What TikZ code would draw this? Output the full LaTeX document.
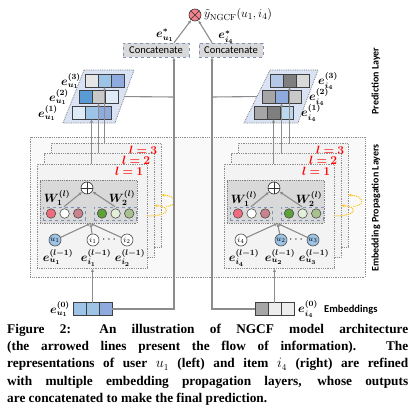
\documentclass[tikz,border=0pt]{standalone}
\usepackage{fontspec}
\usepackage{amsmath}
\usepackage{bm}
\setsansfont{Carlito}
\newfontfamily\capfont{Liberation Serif}
\usetikzlibrary{positioning,arrows.meta}

\definecolor{flowgray}{HTML}{8C8C8C}
\definecolor{boxgray}{HTML}{D9D9D9}
\definecolor{layerfill}{HTML}{F3F3F3}
\definecolor{outerfill}{HTML}{F9F9F9}
\definecolor{parafill}{HTML}{DAE3F3}
\definecolor{dashblue}{HTML}{7F93B8}
\definecolor{userblue}{HTML}{9DC3E6}
\definecolor{wpink}{HTML}{EE6B7D}
\definecolor{wrose}{HTML}{C9828E}
\definecolor{wgreen}{HTML}{5EA03A}
\definecolor{wlgreen}{HTML}{E2EFD9}
\definecolor{wsage}{HTML}{A9C08F}
\definecolor{loopgold}{HTML}{FFC000}
\definecolor{predpink}{HTML}{F4818C}
\definecolor{bA}{HTML}{DEEBF7}
\definecolor{bB}{HTML}{9DC3E6}
\definecolor{bC}{HTML}{8FAADC}
\definecolor{bD}{HTML}{5B9BD5}
\definecolor{bE}{HTML}{B4C7E7}
\definecolor{bF}{HTML}{BDD7EE}
\definecolor{gA}{HTML}{E7E6E6}
\definecolor{gB}{HTML}{C9C9C9}
\definecolor{gC}{HTML}{A6A6A6}
\definecolor{gD}{HTML}{7F7F7F}
\definecolor{gE}{HTML}{EDEDED}

\tikzset{
  layerbox/.style={draw=black!45, densely dotted, line width=0.8pt, fill=layerfill, inner sep=0pt},
  graybox/.style={draw=black!50, densely dotted, line width=0.8pt, fill=boxgray, inner sep=0pt},
  wbox/.style={draw=dashblue, dashed, line width=0.6pt, minimum width=42pt, minimum height=13pt, inner sep=0pt},
  wdot/.style={circle, draw=black!70, line width=0.6pt, minimum size=9.5pt, inner sep=0pt},
  ent/.style={circle, draw=black!70, line width=0.6pt, minimum size=12pt, inner sep=0pt, font=\fontsize{8.5}{8.5}\selectfont},
  opcirc/.style={circle, draw=black!80, line width=0.6pt, minimum size=12pt, inner sep=0pt},
  cell/.style={draw=black!75, line width=0.7pt, minimum width=13pt, minimum height=13pt, inner sep=0pt, outer sep=0pt},
  parabox/.style={draw=black!50, densely dotted, line width=0.8pt, fill=parafill},
  concatbox/.style={draw=dashblue, dashed, line width=0.6pt, fill=boxgray, minimum height=14pt, inner sep=0pt, font=\sffamily\fontsize{10.5}{12}\selectfont},
  flow/.style={draw=flowgray, line width=1.1pt, -{Latex[length=3.5pt,width=3.2pt]}},
  plain/.style={draw=flowgray, line width=1.1pt},
  ydot/.style={draw=loopgold, densely dotted, line width=1pt, -{Latex[length=3pt,width=3pt]}},
  emb/.style={inner sep=0pt, font=\fontsize{12}{14}\selectfont},
  lvl/.style={inner sep=0pt, text=red, font=\fontsize{11.5}{13}\selectfont},
  side/.style={rotate=90, inner sep=0pt, font=\sffamily\bfseries\fontsize{10}{12}\selectfont}
}

\begin{document}
\begin{tikzpicture}[x=1pt,y=-1pt]
\useasboundingbox (0,0) rectangle (415,417);

\draw[layerbox, fill=outerfill] (30,137) rectangle (365,277);

% user side layers
\node[layerbox, minimum width=110pt, minimum height=104pt] (uL3) at (106,195) {};
\node[lvl, anchor=north east] (ul3) at ([shift={(-4,3)}]uL3.north east) {$\bm{l=3}$};
\node[layerbox, minimum width=110pt, minimum height=104pt] (uL2) at (99,205.5) {};
\node[lvl, anchor=north east] (ul2) at ([shift={(-4,3)}]uL2.north east) {$\bm{l=2}$};
\node[layerbox, minimum width=110pt, minimum height=104pt] (uL1) at (92,216) {};
\node[lvl, anchor=north east] (ul1) at ([shift={(-4,3)}]uL1.north east) {$\bm{l=1}$};

\node[graybox, minimum width=97pt, minimum height=43pt] (ugray) at (88.5,201.5) {};
\node[opcirc, fill=white] (uplus) at (87,188) {};
\draw[black!80, line width=0.6pt] (uplus.north) -- (uplus.south) (uplus.west) -- (uplus.east);
\node[wbox] (uw1) at (64,213.5) {};
\node[wdot, fill=wpink] (uw1a) at (51,213.5) {};
\node[wdot, fill=white, right=3.5pt of uw1a] (uw1b) {};
\node[wdot, fill=wrose, right=3.5pt of uw1b] (uw1c) {};
\node[wbox] (uw2) at (115,213.5) {};
\node[wdot, fill=wgreen] (uw2a) at (102,213.5) {};
\node[wdot, fill=wlgreen, right=3.5pt of uw2a] (uw2b) {};
\node[wdot, fill=wsage, right=3.5pt of uw2b] (uw2c) {};
\node[emb] (uW1) at (57,198) {$\bm{W^{(l)}_1}$};
\node[emb] (uW2) at (122,198) {$\bm{W^{(l)}_2}$};
\draw[flow] (uw1.north) -- (uplus);
\draw[flow] (uw2.north) -- (uplus);

\node[ent, fill=userblue] (uu1) at (55,240) {$u_1$};
\node[ent, fill=white] (ui1) at (93,240) {$i_1$};
\node[ent, fill=white] (ui2) at (127,240) {$i_2$};
\node[emb] (udots) at (110,240) {$\cdots$};
\node[emb, below=3pt of uu1, xshift=3pt] (uu1e) {$\bm{e^{(l-1)}_{u_1}}$};
\node[emb, below=3pt of ui1, xshift=3pt] (ui1e) {$\bm{e^{(l-1)}_{i_1}}$};
\node[emb, below=3pt of ui2, xshift=3pt] (ui2e) {$\bm{e^{(l-1)}_{i_2}}$};
\draw[flow] (uu1) -- ([xshift=2pt]ugray.south);
\draw[flow] (ui1) -- ([xshift=2pt]ugray.south);
\draw[flow] (ui2) -- ([xshift=2pt]ugray.south);

\draw[ydot] (uL1.east) .. controls +(24,0) and +(16,1) .. (uL2.east);
\draw[ydot] ([shift={(12,1)}]uL2.east) .. controls +(12,-1) and +(16,1) .. (uL3.east);

% item side layers
\node[layerbox, minimum width=110pt, minimum height=104pt] (iL3) at (293,195) {};
\node[lvl, anchor=north east] (il3) at ([shift={(-4,3)}]iL3.north east) {$\bm{l=3}$};
\node[layerbox, minimum width=110pt, minimum height=104pt] (iL2) at (286,205.5) {};
\node[lvl, anchor=north east] (il2) at ([shift={(-4,3)}]iL2.north east) {$\bm{l=2}$};
\node[layerbox, minimum width=110pt, minimum height=104pt] (iL1) at (279,216) {};
\node[lvl, anchor=north east] (il1) at ([shift={(-4,3)}]iL1.north east) {$\bm{l=1}$};

\node[graybox, minimum width=97pt, minimum height=43pt] (igray) at (275.5,201.5) {};
\node[opcirc, fill=white] (iplus) at (274,188) {};
\draw[black!80, line width=0.6pt] (iplus.north) -- (iplus.south) (iplus.west) -- (iplus.east);
\node[wbox] (iw1) at (251,213.5) {};
\node[wdot, fill=wpink] (iw1a) at (238,213.5) {};
\node[wdot, fill=white, right=3.5pt of iw1a] (iw1b) {};
\node[wdot, fill=wrose, right=3.5pt of iw1b] (iw1c) {};
\node[wbox] (iw2) at (302,213.5) {};
\node[wdot, fill=wgreen] (iw2a) at (289,213.5) {};
\node[wdot, fill=wlgreen, right=3.5pt of iw2a] (iw2b) {};
\node[wdot, fill=wsage, right=3.5pt of iw2b] (iw2c) {};
\node[emb] (iW1) at (244,199) {$\bm{W^{(l)}_1}$};
\node[emb] (iW2) at (309,199) {$\bm{W^{(l)}_2}$};
\draw[flow] (iw1.north) -- (iplus);
\draw[flow] (iw2.north) -- (iplus);

\node[ent, fill=white] (ii4) at (241,240) {$i_4$};
\node[ent, fill=userblue] (iu2) at (281,240) {$u_2$};
\node[ent, fill=userblue] (iu3) at (313,240) {$u_3$};
\node[emb] (idots) at (297,240) {$\cdots$};
\node[emb, below=3pt of ii4, xshift=3pt] (ii4e) {$\bm{e^{(l-1)}_{i_4}}$};
\node[emb, below=3pt of iu2, xshift=-1pt] (iu2e) {$\bm{e^{(l-1)}_{u_2}}$};
\node[emb, below=3pt of iu3, xshift=1pt] (iu3e) {$\bm{e^{(l-1)}_{u_3}}$};
\draw[flow] (ii4) -- ([xshift=2pt]igray.south);
\draw[flow] (iu2) -- ([xshift=2pt]igray.south);
\draw[flow] (iu3) -- ([xshift=2pt]igray.south);

\draw[ydot] (iL1.east) .. controls +(24,0) and +(16,1) .. (iL2.east);
\draw[ydot] ([shift={(12,1)}]iL2.east) .. controls +(12,-1) and +(16,1) .. (iL3.east);

% input embeddings
\coordinate (ucol) at (174,97);
\coordinate (icol) at (212,97);
\node[cell, fill=bB] (u0-1) at (79.5,309) {};
\node[cell, fill=bB, right=0pt of u0-1] (u0-2) {};
\node[cell, fill=bC, right=0pt of u0-2] (u0-3) {};
\node[emb, left=3pt of u0-1] (u0e) {$\bm{e^{(0)}_{u_1}}$};
\node[cell, fill=gC] (i0-1) at (261.5,309) {};
\node[cell, fill=gE, right=0pt of i0-1] (i0-2) {};
\node[cell, fill=gE, right=0pt of i0-2] (i0-3) {};
\node[emb, right=4pt of i0-3] (i0e) {$\bm{e^{(0)}_{i_4}}$};
\node[inner sep=0pt, anchor=west, font=\sffamily\bfseries\fontsize{10.5}{12}\selectfont] (embtxt) at (324,310) {Embeddings};
\draw[flow] (u0-2.north) -- (u0-2.north |- uL1.south);
\draw[flow] (i0-2.north) -- (i0-2.north |- iL1.south);

\node[concatbox, minimum width=66pt] (ucat) at (156,50) {Concatenate};
\node[concatbox, minimum width=64pt] (icat) at (231,50) {Concatenate};
\draw[flow] (u0-3.east) -| (ucat.south -| ucol);
\draw[flow] (i0-1.west) -| (icat.south -| icol);

% prediction layer rows
\node[cell, fill=bA] (ur2-3) at (111.5,96.5) {};
\node[cell, fill=gC] (ir2-1) at (268.5,96.5) {};
\draw[plain] (ur2-3.east) -- (ucol);
\draw[plain] (ir2-1.west) -- (icol);

\draw[parabox] (84,70) -- (134,70) -- (115,123) -- (63,123) -- cycle;
\node[cell, fill=gA] (ur3-1) at (91.5,80.5) {};
\node[cell, fill=bB, right=0pt of ur3-1] (ur3-2) {};
\node[cell, fill=bC, right=0pt of ur3-2] (ur3-3) {};
\node[cell, fill=bD] (ur2-1) at (85.5,96.5) {};
\node[cell, fill=gB, right=0pt of ur2-1] (ur2-2) {};
\node[cell, fill=bA, right=0pt of ur2-2] {};
\node[cell, fill=bA] (ur1-1) at (78.5,112.5) {};
\node[cell, fill=bB, right=0pt of ur1-1] (ur1-2) {};
\node[cell, fill=bC, right=0pt of ur1-2] (ur1-3) {};
\node[emb, anchor=east] (ur3e) at (81,81) {$\bm{e^{(3)}_{u_1}}$};
\node[emb, anchor=east] (ur2e) at (69,97) {$\bm{e^{(2)}_{u_1}}$};
\node[emb, anchor=east] (ur1e) at (58,113) {$\bm{e^{(1)}_{u_1}}$};

\draw[parabox] (270,70) -- (318,70) -- (298,123) -- (244,123) -- cycle;
\node[cell, fill=bE] (ir3-1) at (276.5,80.5) {};
\node[cell, fill=gD, right=0pt of ir3-1] (ir3-2) {};
\node[cell, fill=boxgray, right=0pt of ir3-2] (ir3-3) {};
\node[cell, fill=gC] at (268.5,96.5) {};
\node[cell, fill=bC, right=0pt of ir2-1] (ir2-2) {};
\node[cell, fill=gB, right=0pt of ir2-2] (ir2-3) {};
\node[cell, fill=gC] (ir1-1) at (260.5,112.5) {};
\node[cell, fill=gD, right=0pt of ir1-1] (ir1-2) {};
\node[cell, fill=bF, right=0pt of ir1-2] (ir1-3) {};
\node[emb, anchor=west] (ir3e) at (318,81) {$\bm{e^{(3)}_{i_4}}$};
\node[emb, anchor=west] (ir2e) at (309,97) {$\bm{e^{(2)}_{i_4}}$};
\node[emb, anchor=west] (ir1e) at (301,113) {$\bm{e^{(1)}_{i_4}}$};

\draw[flow] (ur1-2.south |- uL1.north) -- (ur1-2.south);
\draw[flow] (ur2-2.south |- uL2.north) -- (ur2-2.south);
\draw[flow] (ur3-2.south |- uL3.north) -- (ur3-2.south);
\draw[flow] (ir1-2.south |- iL1.north) -- (ir1-2.south);
\draw[flow] (ir2-2.south |- iL2.north) -- (ir2-2.south);
\draw[flow] (ir3-2.south |- iL3.north) -- (ir3-2.south);

% prediction
\node[opcirc, fill=predpink] (pred) at (195,15) {};
\draw[black!80, line width=0.6pt] (pred.north west) -- (pred.south east) (pred.north east) -- (pred.south west);
\node[inner sep=0pt, anchor=west, font=\fontsize{12.5}{14}\selectfont] (yhat) at (204,15) {$\tilde{y}_{\mathrm{NGCF}}(u_1,i_4)$};
\draw[flow] (ucat.north -| ucol) -- (pred);
\draw[flow] (icat.north -| icol) -- (pred);
\node[emb] (ustar) at (165,35) {$\bm{e^{*}_{u_1}}$};
\node[emb] (istar) at (226,37) {$\bm{e^{*}_{i_4}}$};

\node[side] (predtxt) at (376,81) {Prediction Layer};
\node[side] (proptxt) at (376,208) {Embedding Propagation Layers};

\node[anchor=north west, inner sep=0pt, text width=401pt, align=justify,
  font=\capfont\bfseries\fontsize{13.3}{17.2}\selectfont] (caption) at (7,324)
  {\hyphenpenalty=10000 Figure 2: An illustration of NGCF model architecture\linebreak
  (the arrowed lines present the flow of information). The\linebreak
  representations of user $u_1$ (left) and item $i_4$ (right) are refined\linebreak
  with multiple embedding propagation layers, whose outputs\linebreak
  are concatenated to make the final prediction.};
\end{tikzpicture}
\end{document}
